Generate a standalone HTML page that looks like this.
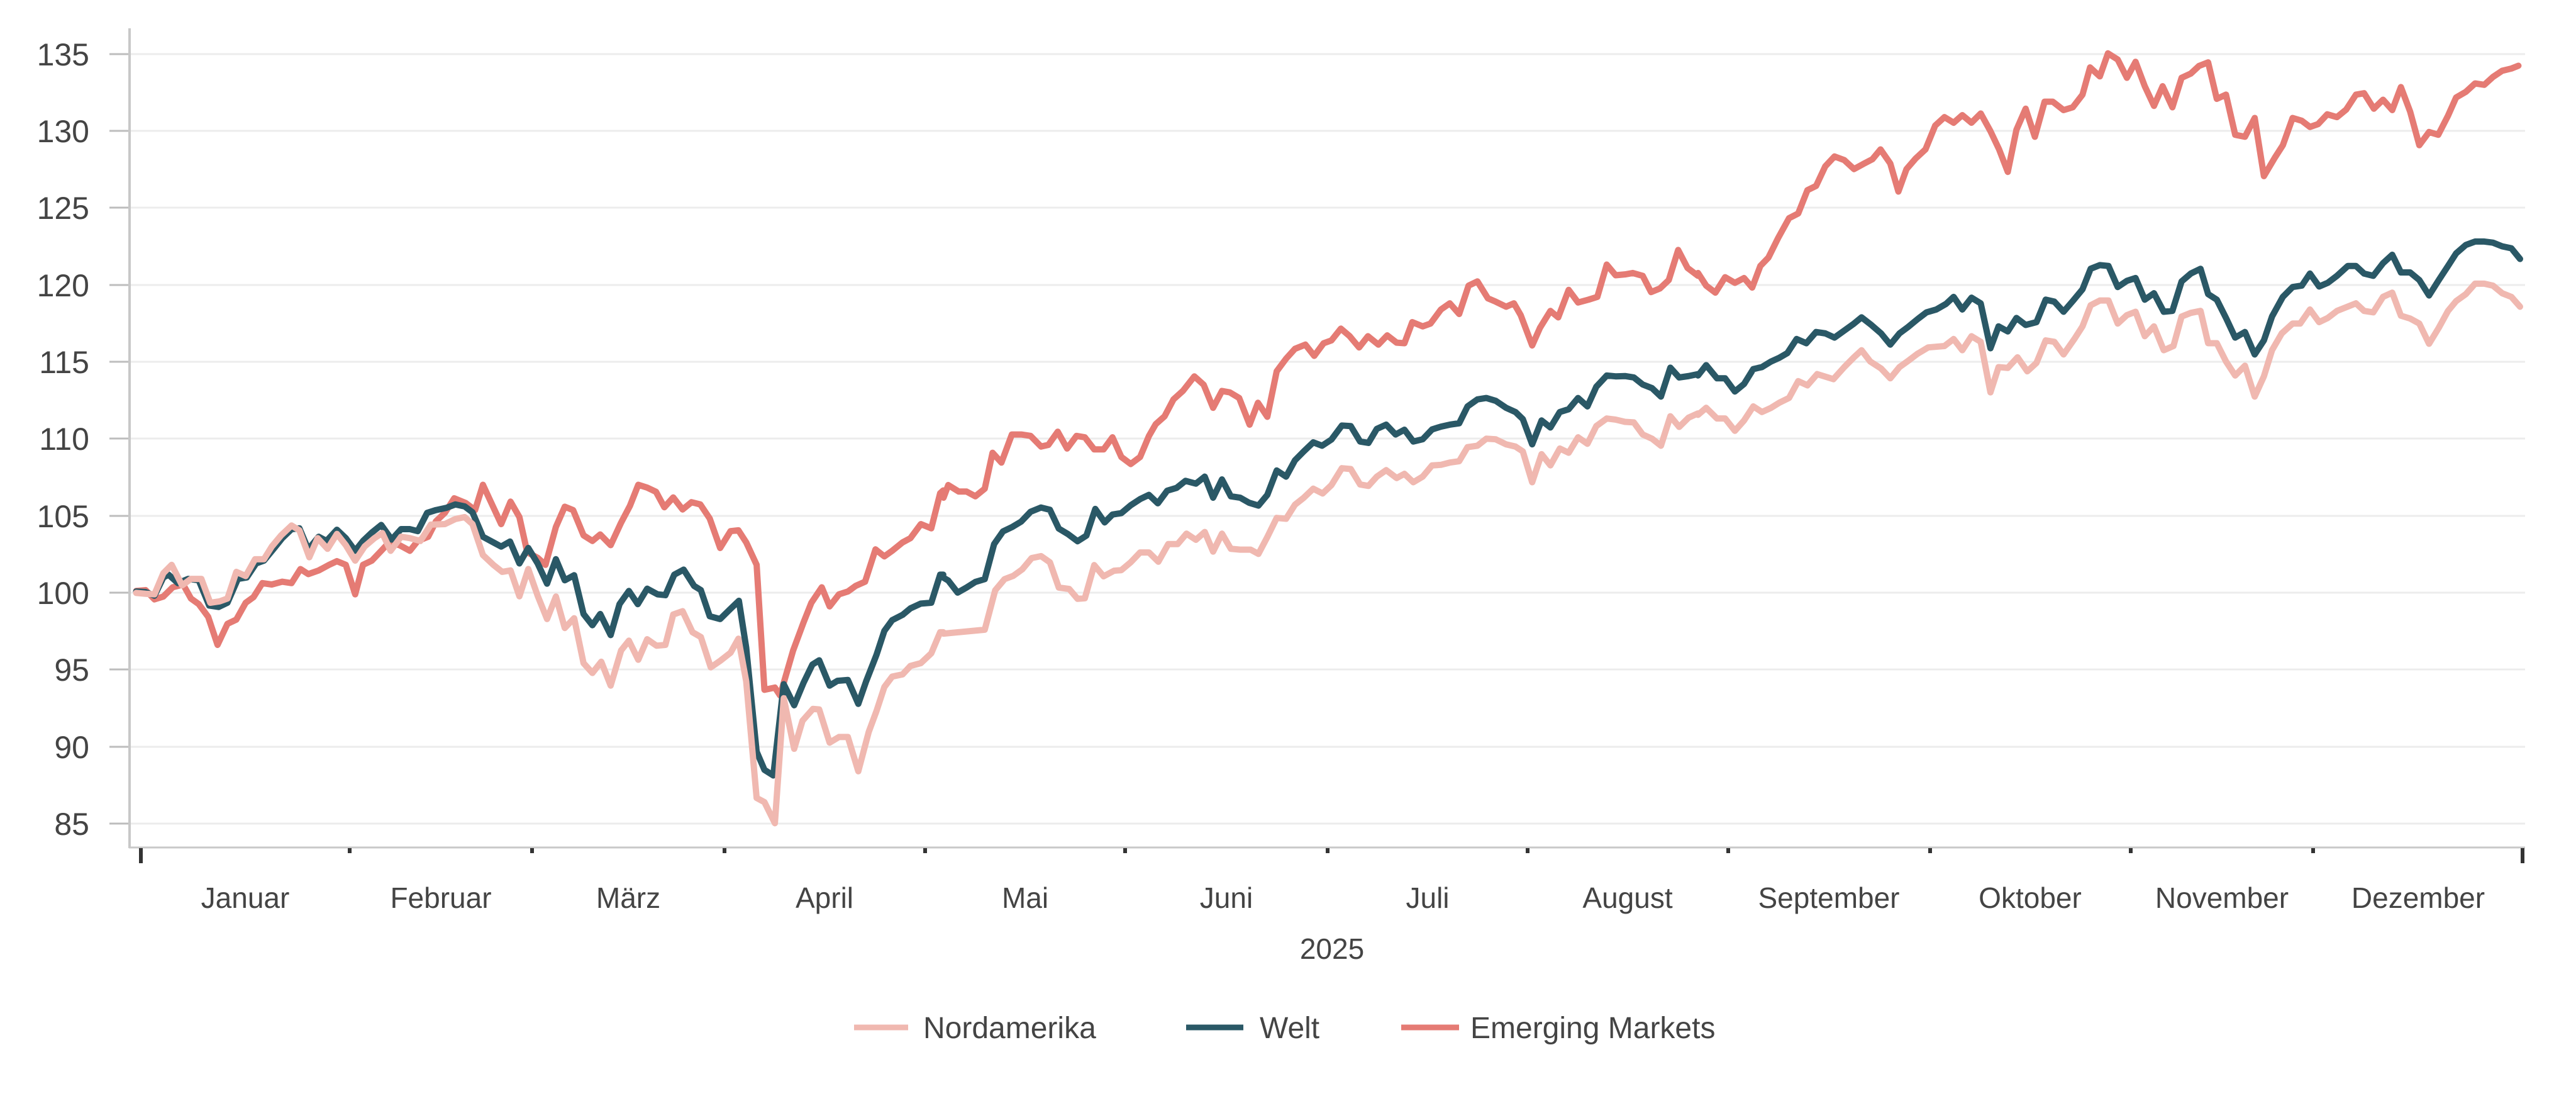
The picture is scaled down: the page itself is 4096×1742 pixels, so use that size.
<!DOCTYPE html>
<html><head><meta charset="utf-8"><style>
html,body{margin:0;padding:0;background:#fff;}
svg{display:block;}
text{font-family:"Liberation Sans",sans-serif;fill:#444;}
</style></head><body>
<svg width="4096" height="1742" viewBox="0 0 4096 1742" xmlns="http://www.w3.org/2000/svg">
<g stroke="#ececec" stroke-width="3">
<line x1="205" x2="4015" y1="86" y2="86"/><line x1="205" x2="4015" y1="208" y2="208"/>
<line x1="205" x2="4015" y1="330" y2="330"/><line x1="205" x2="4015" y1="453" y2="453"/>
<line x1="205" x2="4015" y1="575" y2="575"/><line x1="205" x2="4015" y1="697" y2="697"/>
<line x1="205" x2="4015" y1="820" y2="820"/><line x1="205" x2="4015" y1="942" y2="942"/>
<line x1="205" x2="4015" y1="1064" y2="1064"/><line x1="205" x2="4015" y1="1187" y2="1187"/>
<line x1="205" x2="4015" y1="1309" y2="1309"/>
</g>
<g stroke="#bdbdbd" stroke-width="3">
<line x1="174" x2="205" y1="86" y2="86"/><line x1="174" x2="205" y1="208" y2="208"/>
<line x1="174" x2="205" y1="330" y2="330"/><line x1="174" x2="205" y1="453" y2="453"/>
<line x1="174" x2="205" y1="575" y2="575"/><line x1="174" x2="205" y1="697" y2="697"/>
<line x1="174" x2="205" y1="820" y2="820"/><line x1="174" x2="205" y1="942" y2="942"/>
<line x1="174" x2="205" y1="1064" y2="1064"/><line x1="174" x2="205" y1="1187" y2="1187"/>
<line x1="174" x2="205" y1="1309" y2="1309"/>
</g>
<line x1="206" x2="206" y1="45" y2="1348" stroke="#c8c8c8" stroke-width="4"/>
<line x1="205" x2="4015" y1="1347" y2="1347" stroke="#c8c8c8" stroke-width="3"/>
<g stroke="#333" stroke-width="6">
<line x1="224" x2="224" y1="1348" y2="1372"/>
<line x1="556" x2="556" y1="1348" y2="1356"/><line x1="846" x2="846" y1="1348" y2="1356"/>
<line x1="1152" x2="1152" y1="1348" y2="1356"/><line x1="1471" x2="1471" y1="1348" y2="1356"/>
<line x1="1789" x2="1789" y1="1348" y2="1356"/><line x1="2111" x2="2111" y1="1348" y2="1356"/>
<line x1="2429" x2="2429" y1="1348" y2="1356"/><line x1="2748" x2="2748" y1="1348" y2="1356"/>
<line x1="3069" x2="3069" y1="1348" y2="1356"/><line x1="3388" x2="3388" y1="1348" y2="1356"/>
<line x1="3678" x2="3678" y1="1348" y2="1356"/>
<line x1="4011" x2="4011" y1="1348" y2="1372"/>
</g>
<g font-size="50" text-anchor="end">
<text x="142" y="104">135</text><text x="142" y="226">130</text><text x="142" y="348">125</text>
<text x="142" y="471">120</text><text x="142" y="593">115</text><text x="142" y="715">110</text>
<text x="142" y="838">105</text><text x="142" y="960">100</text><text x="142" y="1082">95</text>
<text x="142" y="1205">90</text><text x="142" y="1327">85</text>
</g>
<g font-size="46" text-anchor="middle">
<text x="390" y="1443">Januar</text><text x="701" y="1443">Februar</text>
<text x="999" y="1443">März</text><text x="1311" y="1443">April</text>
<text x="1630" y="1443">Mai</text><text x="1950" y="1443">Juni</text>
<text x="2270" y="1443">Juli</text><text x="2588" y="1443">August</text>
<text x="2908" y="1443">September</text><text x="3228" y="1443">Oktober</text>
<text x="3533" y="1443">November</text><text x="3845" y="1443">Dezember</text>
<text x="2118" y="1524">2025</text>
</g>
<g fill="none" stroke-linejoin="round" stroke-linecap="round">
<g transform="translate(200,650) scale(0.829,0.4464)">
<polyline vector-effect="non-scaling-stroke" stroke="#e57b74" stroke-width="10" points="20,648 38,645 55,678 72,668 90,635 110,625 125,675 140,695 158,740 176,840 195,765 212,750 230,690 245,670 262,620 280,625 300,615 318,620 335,570 350,588 370,575 390,555 405,542 422,555 440,660 455,555 472,540 490,505 505,475 525,485 545,505 560,470 580,455 595,400 612,370 630,318 652,335 670,360 685,270 700,330 720,410 738,330 755,385 770,510 790,530 805,555 825,420 842,348 858,360 878,450 895,470 910,447 930,485 950,405 967,345 983,270 1000,280 1017,295 1033,350 1050,315 1068,358 1085,332 1102,340 1120,390 1140,495 1160,435 1175,432 1190,475 1210,555 1225,1000 1245,992 1255,1020 1280,860 1300,760 1315,690 1335,635 1350,703 1368,660 1385,650 1400,630 1418,615 1438,500 1455,525 1470,505 1490,475 1505,460 1525,410 1545,425 1562,300 1568,290"/>
<polyline vector-effect="non-scaling-stroke" stroke="#2a5866" stroke-width="10" points="20,650 38,652 55,665 72,600 82,590 100,620 120,605 140,610 160,700 178,705 195,690 215,605 232,600 250,550 265,540 285,495 300,460 318,428 333,425 350,500 370,455 385,470 405,430 422,460 440,505 455,470 472,440 490,413 510,465 528,428 545,428 560,435 578,370 595,360 615,352 632,340 650,347 665,368 685,455 705,475 720,490 737,472 755,550 772,495 790,550 808,622 825,535 842,610 860,592 878,730 895,770 910,730 930,805 947,695 965,648 982,695 1000,640 1020,660 1035,663 1052,590 1070,572 1090,630 1103,645 1120,738 1140,748 1158,715 1176,683 1190,850 1210,1220 1225,1285 1242,1305 1262,980 1282,1055 1300,975 1317,910 1330,895 1350,985 1365,968 1385,965 1405,1050 1420,970 1440,875 1455,790 1470,752 1490,733 1505,710 1525,693 1545,690 1562,590 1568,590"/>
<polyline vector-effect="non-scaling-stroke" stroke="#f0b8b0" stroke-width="10" points="20,655 38,658 55,660 72,585 88,555 108,628 125,605 145,605 162,690 180,685 195,675 212,580 230,595 248,535 265,535 280,490 298,450 318,415 333,432 352,528 368,460 387,498 405,445 422,485 440,540 458,490 477,460 492,442 508,505 528,455 545,460 565,470 585,412 612,410 632,392 650,385 665,410 685,520 705,555 722,580 738,575 755,667 772,570 790,665 808,748 825,668 842,780 860,745 878,905 895,940 912,900 930,985 950,860 965,825 983,893 1000,820 1018,843 1035,840 1050,732 1068,720 1087,795 1103,812 1122,920 1140,897 1160,868 1175,818 1190,970 1210,1385 1225,1400 1245,1475 1262,1030 1282,1210 1298,1110 1318,1068 1330,1070 1350,1188 1368,1168 1385,1168 1405,1290 1425,1150 1440,1075 1455,990 1470,953 1490,945 1505,915 1525,905 1545,870 1562,795 1568,795"/>
</g>
<g transform="translate(1400,300) scale(0.829,0.4464)">
<polyline vector-effect="non-scaling-stroke" stroke="#e57b74" stroke-width="10" points="121,1100 130,1055 150,1078 165,1078 182,1095 200,1068 215,940 232,975 252,875 270,875 288,880 308,918 322,912 340,865 358,925 376,880 392,885 410,928 428,928 445,885 462,955 480,980 498,955 515,880 528,838 545,810 562,750 580,720 602,668 620,698 638,780 655,720 670,725 688,745 708,840 724,762 742,812 760,650 778,605 795,570 815,555 832,595 850,550 865,540 883,498 900,525 918,565 935,525 955,555 972,522 990,548 1005,550 1020,475 1040,490 1055,480 1075,430 1092,408 1110,446 1128,345 1145,330 1165,390 1180,402 1200,420 1215,408 1228,450 1250,558 1265,495 1285,435 1300,458 1320,360 1338,405 1358,395 1375,385 1393,270 1410,308 1428,305 1443,300 1462,310 1478,368 1495,355 1512,325 1530,218 1548,282 1568,310"/>
<polyline vector-effect="non-scaling-stroke" stroke="#2a5866" stroke-width="10" points="121,1385 130,1395 148,1438 165,1420 182,1400 200,1390 218,1265 235,1220 252,1205 270,1185 288,1150 308,1135 325,1143 342,1210 360,1230 378,1255 395,1235 412,1140 430,1188 445,1160 462,1155 480,1127 498,1105 515,1090 532,1120 550,1075 568,1065 585,1040 605,1050 622,1025 638,1100 655,1035 672,1095 690,1100 707,1118 725,1128 742,1090 760,1003 778,1025 795,967 812,935 830,903 847,915 865,893 885,843 902,845 920,900 936,905 952,855 970,840 988,875 1005,858 1022,900 1040,892 1058,857 1075,847 1092,840 1110,835 1126,775 1145,750 1162,745 1180,755 1200,780 1218,795 1232,820 1250,910 1268,825 1285,850 1303,795 1320,785 1338,745 1356,775 1373,705 1393,665 1410,668 1428,667 1445,672 1462,697 1480,710 1497,740 1515,637 1532,672 1550,667 1568,660"/>
<polyline vector-effect="non-scaling-stroke" stroke="#f0b8b0" stroke-width="10" points="121,1584 200,1570 220,1430 238,1390 255,1378 272,1355 290,1315 308,1308 325,1330 342,1420 362,1425 378,1460 392,1458 410,1340 428,1380 448,1360 462,1358 480,1330 498,1295 515,1295 533,1328 552,1265 570,1265 587,1228 605,1250 622,1222 638,1292 655,1228 672,1282 690,1285 710,1285 725,1300 742,1240 760,1172 778,1175 795,1125 812,1100 830,1068 848,1085 865,1055 885,995 902,998 920,1053 936,1058 952,1025 970,1002 990,1030 1005,1015 1022,1045 1040,1025 1058,985 1075,983 1092,975 1110,970 1126,920 1145,915 1162,890 1180,892 1200,910 1218,918 1232,935 1250,1045 1268,945 1285,985 1303,925 1320,940 1338,885 1356,908 1373,845 1393,818 1410,822 1428,830 1445,832 1462,875 1480,890 1497,915 1515,810 1532,848 1550,815 1568,800"/>
</g>
<g transform="translate(2700,50) scale(0.861,0.4464)">
<polyline vector-effect="non-scaling-stroke" stroke="#e57b74" stroke-width="10" points="0,860 15,905 32,930 50,875 68,895 85,878 100,912 115,835 130,805 148,735 168,665 185,648 202,565 218,550 235,480 252,445 270,458 288,490 305,472 322,455 337,420 355,470 370,570 385,490 402,452 420,420 438,335 455,305 472,325 488,298 505,325 522,292 540,355 556,420 572,500 588,350 605,275 622,375 640,250 655,250 675,280 692,270 710,225 724,128 742,160 757,78 775,100 792,165 808,108 825,195 842,265 858,195 876,270 893,165 910,150 925,123 942,110 958,240 975,225 992,368 1010,375 1028,308 1045,515 1065,450 1080,405 1098,308 1115,318 1130,340 1145,330 1162,295 1180,305 1197,278 1215,225 1230,220 1248,275 1265,243 1282,280 1298,198 1315,285 1332,405 1350,358 1367,368 1385,300 1400,235 1418,215 1435,185 1452,190 1468,162 1485,140 1502,132 1515,122"/>
<polyline vector-effect="non-scaling-stroke" stroke="#2a5866" stroke-width="10" points="0,1225 15,1188 35,1235 50,1235 68,1282 85,1255 102,1202 118,1195 135,1175 150,1162 165,1145 182,1095 200,1110 218,1070 235,1075 252,1090 270,1065 288,1040 302,1018 320,1045 338,1075 355,1115 372,1075 388,1052 405,1025 422,1000 440,990 458,970 472,945 488,990 505,948 522,968 540,1128 555,1050 572,1068 588,1020 605,1045 625,1035 642,955 658,962 675,998 692,960 710,918 725,845 742,832 758,835 775,910 792,888 808,878 825,955 842,932 860,998 876,995 893,890 910,862 928,845 942,935 958,955 975,1020 992,1090 1010,1070 1028,1150 1045,1100 1060,1015 1080,945 1098,910 1115,905 1130,862 1147,908 1163,895 1180,870 1200,835 1215,835 1230,862 1247,870 1265,825 1282,795 1298,858 1315,858 1332,885 1350,940 1368,885 1385,835 1400,790 1418,760 1435,748 1452,748 1468,752 1485,765 1502,772 1518,810"/>
<polyline vector-effect="non-scaling-stroke" stroke="#f0b8b0" stroke-width="10" points="0,1365 15,1340 35,1378 50,1378 68,1422 85,1385 102,1335 118,1355 135,1340 150,1322 168,1305 185,1245 202,1260 220,1220 250,1238 270,1195 288,1160 302,1135 318,1175 338,1200 355,1235 372,1195 390,1170 405,1148 425,1125 455,1120 472,1095 488,1135 505,1085 522,1105 540,1285 555,1195 572,1198 590,1160 608,1210 625,1180 642,1100 658,1105 675,1150 695,1095 710,1050 725,975 742,958 758,958 775,1040 792,1010 808,998 825,1085 842,1050 860,1135 878,1120 893,1015 910,1002 928,995 942,1110 958,1110 975,1175 992,1225 1010,1190 1028,1300 1045,1228 1060,1135 1078,1075 1098,1040 1112,1040 1130,990 1147,1035 1163,1020 1180,995 1215,968 1230,995 1247,1000 1265,945 1282,930 1298,1012 1315,1022 1332,1040 1350,1112 1368,1055 1385,995 1400,960 1418,935 1435,898 1452,898 1468,905 1485,932 1502,945 1518,980"/>
</g>
</g>
<g stroke-width="9">
<line x1="1358" x2="1444" y1="1633" y2="1633" stroke="#f0b8b0"/>
<line x1="1886" x2="1977" y1="1633" y2="1633" stroke="#2a5866"/>
<line x1="2228" x2="2320" y1="1633" y2="1633" stroke="#e57b74"/>
</g>
<g font-size="48">
<text x="1468" y="1650">Nordamerika</text>
<text x="2003" y="1650">Welt</text>
<text x="2338" y="1650">Emerging Markets</text>
</g>
</svg>
</body></html>
